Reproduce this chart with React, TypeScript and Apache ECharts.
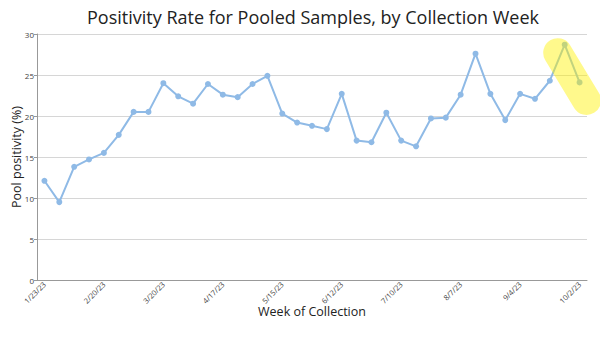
import React, { useEffect, useRef } from "react";
import * as echarts from "echarts";

const weeks = [
  "1/23/23", "1/30/23", "2/6/23", "2/13/23", "2/20/23", "2/27/23", "3/6/23", "3/13/23",
  "3/20/23", "3/27/23", "4/3/23", "4/10/23", "4/17/23", "4/24/23", "5/1/23", "5/8/23",
  "5/15/23", "5/22/23", "5/29/23", "6/5/23", "6/12/23", "6/19/23", "6/26/23", "7/3/23",
  "7/10/23", "7/17/23", "7/24/23", "7/31/23", "8/7/23", "8/14/23", "8/21/23", "8/28/23",
  "9/4/23", "9/11/23", "9/18/23", "9/25/23", "10/2/23",
];

const positivity = [
  12.1, 9.5, 13.8, 14.7, 15.5, 17.7, 20.5, 20.5,
  24.0, 22.4, 21.5, 23.9, 22.6, 22.3, 23.9, 24.9,
  20.3, 19.2, 18.8, 18.4, 22.7, 17.0, 16.8, 20.4,
  17.0, 16.3, 19.7, 19.8, 22.6, 27.6, 22.7, 19.5,
  22.7, 22.1, 24.3, 28.7, 24.1,
];

const highlightFrom = 35;
const highlightTo = 36;

const FONT = "'Open Sans', sans-serif";

export default function App() {
  const ref = useRef<HTMLDivElement>(null);
  useEffect(() => {
    if (!ref.current) return;
    const chart = echarts.init(ref.current, null, { renderer: "svg" });
    chart.setOption({
      animation: false,
      backgroundColor: "#ffffff",
      title: {
        text: "Positivity Rate for Pooled Samples, by Collection Week",
        left: 82,
        top: 3,
        textStyle: { fontFamily: FONT, fontSize: 18, fontWeight: "normal", color: "#222" },
      },
      grid: { left: 37, right: 13, top: 34, bottom: 82, outerBoundsMode: "none", containLabel: false },
      xAxis: {
        type: "category",
        data: weeks,
        boundaryGap: true,
        name: "Week of Collection",
        nameLocation: "middle",
        nameGap: 25,
        nameMoveOverlap: false,
        nameTextStyle: { fontFamily: FONT, fontSize: 12.5, color: "#222" },
        axisLine: { lineStyle: { color: "#999" } },
        axisTick: { show: false },
        axisLabel: {
          interval: 3,
          rotate: 45,
          fontFamily: FONT,
          fontSize: 7.5,
          color: "#444",
          margin: 3,
        },
      },
      yAxis: {
        type: "value",
        min: 0,
        max: 30,
        interval: 5,
        name: "Pool positivity (%)",
        nameLocation: "middle",
        nameGap: 14,
        nameMoveOverlap: false,
        nameTextStyle: { fontFamily: FONT, fontSize: 12.5, color: "#222" },
        axisLine: { show: true, lineStyle: { color: "#999" } },
        axisTick: { show: true, length: 3, lineStyle: { color: "#999" } },
        axisLabel: { fontFamily: FONT, fontSize: 8, color: "#444", margin: 3 },
        splitLine: { lineStyle: { color: "#d6d6d6", width: 1.2 } },
      },
      series: [
        {
          type: "line",
          data: positivity,
          symbol: "circle",
          symbolSize: 6,
          lineStyle: { color: "#8fbae6", width: 2 },
          itemStyle: { color: "#8fbae6" },
        },
      ],
    });
    const p1 = chart.convertToPixel({ gridIndex: 0 }, [highlightFrom, positivity[highlightFrom]]) as number[];
    const p2 = chart.convertToPixel({ gridIndex: 0 }, [highlightTo, positivity[highlightTo]]) as number[];
    chart.setOption({
      graphic: [
        {
          type: "line",
          z: 100,
          shape: { x1: p1[0] - 7, y1: p1[1] + 8, x2: p2[0] + 7, y2: p2[1] + 18 },
          style: { stroke: "rgba(255, 242, 0, 0.45)", lineWidth: 29, lineCap: "round" },
        },
      ],
    });
    return () => chart.dispose();
  }, []);
  return <div ref={ref} style={{ width: 600, height: 362, position: "absolute", left: 0, top: 0 }} />;
}
